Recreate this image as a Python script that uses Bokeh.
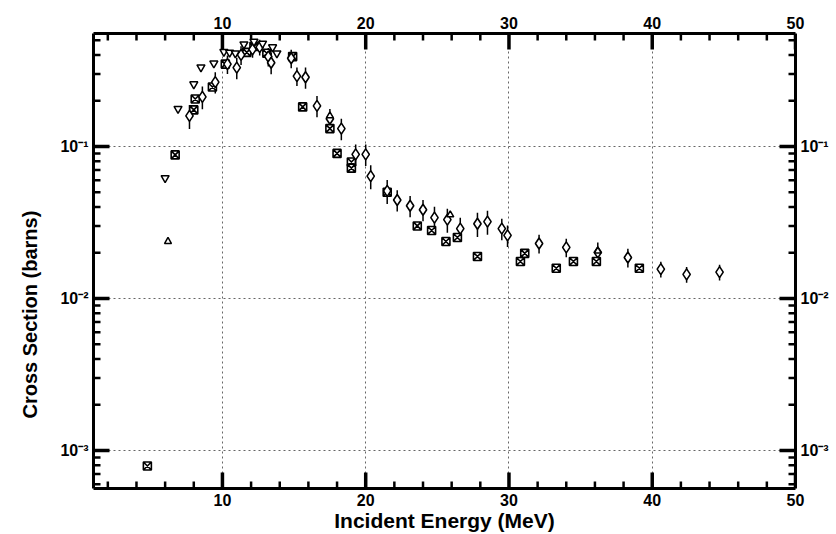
from bokeh.plotting import figure
from bokeh.models import (Range1d, FixedTicker, LogAxis, LinearAxis, Title)
from bokeh.embed import file_html
from bokeh.resources import INLINE

# ---- data ----
sq_x = [4.76, 6.7, 8.0, 8.1, 9.3, 10.2, 11.7, 12.2, 13.1, 14.9, 15.6, 17.5, 18.0, 19.0, 19.0,
        21.5, 23.6, 24.6, 25.6, 26.4, 27.8, 30.8, 31.1, 33.3, 34.5, 36.1, 39.1]
sq_y = [7.9e-4, 0.088, 0.174, 0.205, 0.246, 0.348, 0.416, 0.455, 0.41, 0.39, 0.182, 0.131, 0.090, 0.079, 0.072,
        0.050, 0.030, 0.028, 0.0237, 0.0252, 0.0189, 0.0175, 0.0198, 0.0158, 0.0175, 0.0175, 0.0158]

dm_x = [7.7, 8.6, 9.5, 10.35, 11.0, 11.3, 12.1, 12.6, 13.2, 13.4, 14.8, 15.2, 15.8, 16.6, 17.5, 18.3,
        19.3, 20.0, 20.35, 21.5, 22.2, 23.1, 24.0, 24.8, 25.7, 26.6, 27.8, 28.5, 29.5, 29.9,
        32.1, 34.0, 36.2, 38.3, 40.6, 42.4, 44.7]
dm_y = [0.159, 0.212, 0.265, 0.348, 0.33, 0.40, 0.435, 0.45, 0.39, 0.355, 0.38, 0.29, 0.285, 0.185, 0.152, 0.131,
        0.0887, 0.0887, 0.0638, 0.051, 0.0444, 0.0407, 0.0383, 0.034, 0.033, 0.0288, 0.031, 0.032, 0.0288, 0.026,
        0.023, 0.0217, 0.0201, 0.0186, 0.0156, 0.0144, 0.0149]
dm_err = [0.18, 0.17, 0.16, 0.14, 0.16, 0.14, 0.12, 0.12, 0.14, 0.16, 0.14, 0.14, 0.16, 0.16, 0.16, 0.16,
          0.16, 0.16, 0.18, 0.18, 0.16, 0.16, 0.16, 0.18, 0.18, 0.18, 0.18, 0.18, 0.16, 0.16,
          0.14, 0.14, 0.16, 0.14, 0.12, 0.12, 0.12]

it_x = [6.0, 6.9, 8.0, 8.5, 9.4, 10.1, 10.5, 10.9, 11.5, 12.2, 12.8, 13.5, 13.8]
it_y = [0.062, 0.177, 0.257, 0.332, 0.352, 0.42, 0.415, 0.41, 0.47, 0.49, 0.476, 0.45, 0.41]

tr_x = [6.2, 17.5, 25.9, 36.2]
tr_y = [0.0237, 0.159, 0.0355, 0.0205]

x_ticks = [10, 20, 30, 40, 50]
x_minor = [2, 4, 6, 8, 12, 14, 16, 18, 22, 24, 26, 28, 32, 34, 36, 38, 42, 44, 46, 48]
y_ticks = [1e-3, 1e-2, 1e-1]
y_minor = [6e-4, 7e-4, 8e-4, 9e-4, 2e-3, 3e-3, 4e-3, 5e-3, 6e-3, 7e-3, 8e-3, 9e-3,
           2e-2, 3e-2, 4e-2, 5e-2, 6e-2, 7e-2, 8e-2, 9e-2, 2e-1, 3e-1, 4e-1, 5e-1]
y_labels = {1e-3: "10\u207b\u00b3", 1e-2: "10\u207b\u00b2", 1e-1: "10\u207b\u00b9"}
x_title = "Incident Energy (MeV)"
y_title = "Cross Section (barns)"

FONT = "Liberation Sans"
X0, X1 = 1, 50
LY0, LY1 = -3.25, -0.257

p = figure(width=836, height=534, x_axis_type="linear", y_axis_type="log",
           x_range=Range1d(X0, X1), y_range=Range1d(10 ** LY0, 10 ** LY1),
           output_backend="svg", toolbar_location=None,
           min_border_left=93, min_border_right=41, min_border_top=33, min_border_bottom=43)
p.background_fill_color = "white"
p.border_fill_color = "white"
p.outline_line_color = None

bottom = p.below[0]
left = p.left[0]
top = LinearAxis()
right = LogAxis()
p.add_layout(top, "above")
p.add_layout(right, "right")

xt = FixedTicker(ticks=x_ticks, minor_ticks=x_minor)
yt = FixedTicker(ticks=y_ticks, minor_ticks=y_minor)

for ax in [bottom, top]:
    ax.ticker = xt
for ax in [left, right]:
    ax.ticker = yt
    ax.major_label_overrides = y_labels

for ax in [bottom, top, left, right]:
    ax.axis_line_width = 3
    ax.axis_line_color = "black"
    ax.major_tick_in = 0
    ax.major_tick_out = 0
    ax.minor_tick_in = 0
    ax.minor_tick_out = 0
    ax.major_label_text_font = FONT
    ax.major_label_text_font_style = "bold"
    ax.major_label_text_font_size = "16px"
    ax.major_label_text_color = "black"
    ax.major_label_standoff = 5

bottom.axis_label = x_title
bottom.axis_label_text_font = FONT
bottom.axis_label_text_font_style = "bold"
bottom.axis_label_text_font_size = "21px"
bottom.axis_label_text_color = "black"
bottom.axis_label_standoff = 0

ytitle = Title(text=y_title, align="left", vertical_align="top", offset=70, text_font=FONT,
               text_font_style="bold", text_font_size="20px", text_color="black",
               standoff=30)
p.add_layout(ytitle, "left")

p.xgrid.ticker = xt
p.ygrid.ticker = yt
for g in [p.xgrid, p.ygrid]:
    g.grid_line_color = "#666666"
    g.grid_line_dash = "2 3"
    g.grid_line_width = 1

# ---- inward ticks on all four sides (lengths in pixels -> data units) ----
FW, FH = 702.0, 458.0
dx_px = (X1 - X0) / FW
dly_px = (LY1 - LY0) / FH

tx0, ty0, tx1, ty1, tw = [], [], [], [], []
for vals, L, w in [(x_ticks, 16, 3.5), (x_minor, 7, 2.5)]:
    for v in vals:
        tx0 += [v, v]; tx1 += [v, v]
        ty0 += [10 ** LY0, 10 ** LY1]
        ty1 += [10 ** (LY0 + L * dly_px), 10 ** (LY1 - L * dly_px)]
        tw += [w, w]
for vals, L, w in [(y_ticks, 16, 3.5), (y_minor, 7, 2.5)]:
    for v in vals:
        ty0 += [v, v]; ty1 += [v, v]
        tx0 += [X0, X1]
        tx1 += [X0 + L * dx_px, X1 - L * dx_px]
        tw += [w, w]
p.segment(x0=tx0, y0=ty0, x1=tx1, y1=ty1, line_color="black", line_width=tw)

# error bars for diamonds
lo = [y * (1 - e) for y, e in zip(dm_y, dm_err)]
hi = [y * (1 + e) for y, e in zip(dm_y, dm_err)]
p.segment(x0=dm_x, y0=lo, x1=dm_x, y1=hi, line_color="black", line_width=1.5)

p.scatter(sq_x, sq_y, marker="square_x", size=8, fill_color="white", line_color="black", line_width=1.6)
p.scatter(dm_x, dm_y, marker="diamond", size=11, fill_color="white", line_color="black", line_width=1.6)
p.scatter(it_x, it_y, marker="inverted_triangle", size=8, fill_color="white", line_color="black", line_width=1.5)
p.scatter(tr_x, tr_y, marker="triangle", size=7, fill_color="white", line_color="black", line_width=1.5)

open("out.html", "w").write(file_html(p, INLINE))
